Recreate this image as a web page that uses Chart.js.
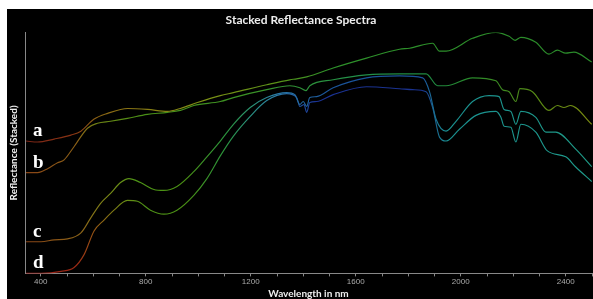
<!DOCTYPE html>
<html>
<head>
<meta charset="utf-8">
<script src="https://cdn.jsdelivr.net/npm/chart.js@4.4.1/dist/chart.umd.min.js"></script>
<style>
  html, body { margin: 0; padding: 0; background: #fff; }
  #panel { position: absolute; left: 7px; top: 9px; width: 586px; height: 290px; background: #000; }
</style>
</head>
<body>
<div id="panel"><canvas id="myChart" width="586" height="290"></canvas></div>
<script>
// wavelengths (nm) and stacked reflectance
const waveA = [344, 388, 451, 515, 553, 602, 655, 731, 807, 883, 932, 997, 1084, 1134, 1261, 1349, 1375, 1413, 1514, 1641, 1767, 1805, 1893, 1919, 1944, 2045, 2134, 2184, 2207, 2229, 2286, 2336, 2368, 2400, 2431, 2499];
const reflA = [134, 133, 136, 140, 144, 156, 162, 167, 166, 164, 167, 173, 180, 183, 191, 196, 197, 199, 208, 218, 227, 228, 233, 225, 225, 238, 244, 240, 236, 239, 234, 222, 226, 223, 224, 214];

const waveB = [344, 388, 426, 464, 489, 526, 578, 616, 666, 730, 806, 882, 932, 983, 1084, 1134, 1261, 1349, 1387, 1410, 1425, 1514, 1641, 1767, 1817, 1868, 1912, 1944, 2045, 2134, 2159, 2184, 2210, 2225, 2273, 2336, 2368, 2393, 2418, 2499];
const reflB = [102, 102, 106, 112, 115, 128, 147, 152, 154, 157, 161, 163, 165, 170, 174, 178, 186, 190, 188, 185, 190, 196, 201, 202, 202, 202, 190, 190, 198, 195, 186, 184, 174, 187, 184, 165, 170, 168, 170, 151];

const waveC = [344, 401, 451, 502, 553, 590, 628, 666, 704, 736, 780, 831, 869, 919, 983, 1033, 1084, 1134, 1198, 1261, 1337, 1368, 1387, 1400, 1413, 1425, 1451, 1514, 1641, 1767, 1855, 1881, 1906, 1944, 1982, 2045, 2108, 2146, 2165, 2191, 2210, 2229, 2286, 2324, 2362, 2437, 2499];
const reflC = [32, 32, 34, 35, 41, 56, 71, 81, 92, 96, 92, 85, 84, 88, 103, 118, 134, 151, 168, 178, 183, 181, 171, 174, 169, 178, 179, 188, 198, 200, 198, 184, 156, 144, 154, 174, 180, 179, 166, 164, 151, 164, 158, 143, 143, 126, 108];

const waveD = [344, 401, 477, 527, 565, 603, 641, 679, 730, 768, 818, 869, 919, 983, 1033, 1084, 1134, 1198, 1261, 1337, 1375, 1387, 1403, 1413, 1425, 1451, 1514, 1641, 1767, 1817, 1868, 1893, 1919, 1944, 1995, 2058, 2134, 2153, 2165, 2191, 2210, 2229, 2286, 2330, 2400, 2437, 2499];
const reflD = [0, 0, 2, 6, 19, 43, 54, 64, 74, 73, 64, 60, 64, 79, 96, 119, 139, 159, 175, 182, 178, 169, 171, 163, 173, 174, 181, 189, 187, 186, 184, 168, 138, 134, 146, 160, 164, 158, 149, 148, 133, 151, 143, 124, 118, 108, 93];

const letters = ["a", "b", "c", "d"];
const xTickLabels = [400, 800, 1200, 1600, 2000, 2400];

// colour along wavelength for each curve
const stops = [
  [[340, "#7a2416"], [520, "#8a3414"], [620, "#8a6414"], [800, "#8a7e14"], [1000, "#7f9014"], [1300, "#5a9218"], [1500, "#2e922a"], [2500, "#2a8a2a"]],
  [[340, "#8a4416"], [540, "#8a6016"], [620, "#6e8414"], [780, "#4a9016"], [1200, "#3a9226"], [1600, "#22904a"], [1900, "#1f8a40"], [2050, "#2a8a2a"], [2300, "#5a8a14"], [2500, "#7a8a10"]],
  [[340, "#8a4416"], [560, "#8a6418"], [660, "#7a8a16"], [760, "#4e9416"], [950, "#4a9014"], [1100, "#2a923a"], [1200, "#2a9270"], [1300, "#2a7aa8"], [1500, "#1a549a"], [1850, "#1a509a"], [1950, "#1a9090"], [2500, "#1e9a86"]],
  [[340, "#9a1a1a"], [540, "#9a2a14"], [620, "#946014"], [720, "#6a8c14"], [800, "#4e9016"], [950, "#4a9014"], [1100, "#2a923a"], [1200, "#2a9282"], [1300, "#2a7aa8"], [1450, "#1a3294"], [1850, "#1a3290"], [1950, "#1a9090"], [2500, "#1e9a8a"]]
];

function pts(w, r) {
  return w.map((x, i) => ({x: x, y: r[i]}));
}

function gradientFor(idx) {
  return function(context) {
    const chart = context.chart;
    const area = chart.chartArea;
    if (!area) return "#888";
    const xs = chart.scales.x;
    const g = chart.ctx.createLinearGradient(area.left, 0, area.right, 0);
    stops[idx].forEach(([nm, col]) => {
      let off = (xs.getPixelForValue(nm) - area.left) / (area.right - area.left);
      off = Math.min(1, Math.max(0, off));
      g.addColorStop(off, col);
    });
    return g;
  };
}

const seriesW = [waveA, waveB, waveC, waveD];
const seriesR = [reflA, reflB, reflC, reflD];

const datasets = seriesW.map((w, i) => ({
  label: letters[i],
  data: pts(w, seriesR[i]),
  borderColor: gradientFor(i),
  borderWidth: 1.15,
  pointRadius: 0,
  fill: false,
  cubicInterpolationMode: "monotone"
}));

const letterPlugin = {
  id: "letters",
  afterDatasetsDraw(chart) {
    const ctx = chart.ctx;
    ctx.save();
    ctx.font = 'bold 19px "Liberation Serif"';
    ctx.fillStyle = "#fff";
    ctx.textBaseline = "alphabetic";
    chart.data.datasets.forEach((ds, i) => {
      const p = chart.getDatasetMeta(i).data[0];
      ctx.fillText(ds.label, p.x + 7, p.y - 5);
    });
    ctx.restore();
  }
};

new Chart(document.getElementById("myChart"), {
  type: "line",
  data: {datasets: datasets},
  plugins: [letterPlugin],
  options: {
    responsive: false,
    animation: false,
    layout: {padding: {left: 2, right: 0, top: 0, bottom: 0}},
    plugins: {
      legend: {display: false},
      tooltip: {enabled: false},
      title: {
        display: true,
        text: "Stacked Reflectance Spectra",
        color: "#eee",
        font: {family: "Lato", size: 12, weight: "bold", lineHeight: 1.2},
        padding: {top: 4, bottom: 5}
      }
    },
    scales: {
      x: {
        type: "linear",
        min: 340,
        max: 2500,
        border: {display: true, color: "#888", width: 1},
        grid: {display: true, drawOnChartArea: false, drawTicks: true, tickLength: 3, color: "#888"},
        ticks: {
          stepSize: 100,
          autoSkip: false,
          includeBounds: false,
          maxRotation: 0,
          padding: 1,
          color: "#aaa",
          font: {family: "Liberation Sans", size: 8, lineHeight: 1.2},
          callback: v => xTickLabels.includes(v) ? String(v) : ""
        },
        title: {
          display: true,
          text: "Wavelength in nm",
          color: "#eee",
          font: {family: "Lato", size: 10, weight: "bold", lineHeight: 1},
          padding: {top: 1, bottom: 0}
        }
      },
      y: {
        min: 0,
        max: 244,
        border: {display: true, color: "#888", width: 1},
        grid: {display: false, drawTicks: false},
        ticks: {display: false},
        title: {
          display: true,
          text: "Reflectance (Stacked)",
          color: "#eee",
          font: {family: "Lato", size: 10, weight: "bold", lineHeight: 1},
          padding: {top: 0, bottom: 6}
        }
      }
    }
  }
});
</script>
</body>
</html>
